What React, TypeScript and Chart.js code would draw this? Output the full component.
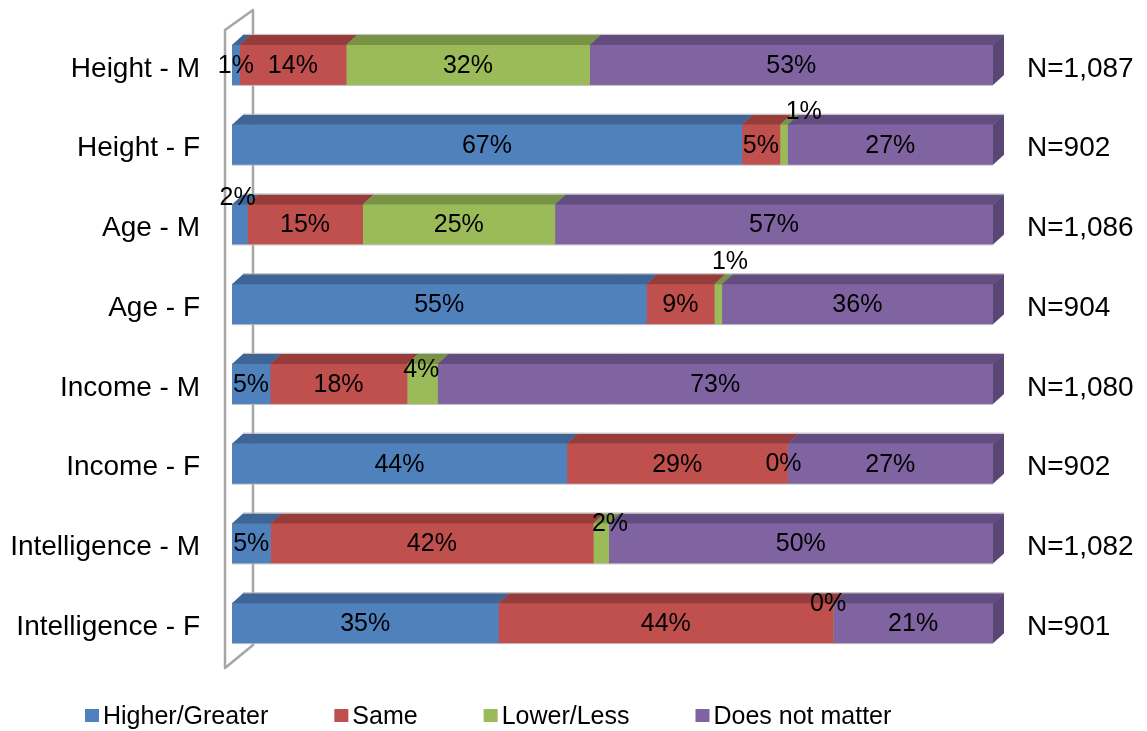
import React, { useEffect, useRef } from "react";
import { Chart, registerables } from "chart.js";

Chart.register(...registerables);

// Survey rows and the share of answers in each of the four options
const categories = [
  "Height - M",
  "Height - F",
  "Age - M",
  "Age - F",
  "Income - M",
  "Income - F",
  "Intelligence - M",
  "Intelligence - F",
];
const sampleSizes = ["N=1,087", "N=902", "N=1,086", "N=904", "N=1,080", "N=902", "N=1,082", "N=901"];

const higherGreater = [1, 67, 2, 55, 5, 44, 5, 35];
const same = [14, 5, 15, 9, 18, 29, 42, 44];
const lowerLess = [32, 1, 25, 1, 4, 0, 2, 0];
const doesNotMatter = [53, 27, 57, 36, 73, 27, 50, 21];

const seriesNames = ["Higher/Greater", "Same", "Lower/Less", "Does not matter"];
const seriesValues = [higherGreater, same, lowerLess, doesNotMatter];

const FRONT = ["#4F81BD", "#C0504D", "#9BBB59", "#8064A2"];
const TOP = ["#3E6596", "#963D3B", "#789345", "#634D80"];
const SIDE = ["#385A86", "#873735", "#6C843E", "#5A4674"];

const FONT = "'Liberation Sans', Arial, Helvetica, sans-serif";
const DEPTH_X = 11;
const DEPTH_Y = 10;

// Each row is a 100% stacked bar: segments are shares of the row total
const rowTotals = categories.map((_, i) => seriesValues.reduce((s, arr) => s + arr[i], 0));
const percentOfRow = (arr: number[]) => arr.map((v, i) => (v / rowTotals[i]) * 100);

// Small labels that sit above or beside their thin segments: [dx, dy] from the segment centre
const labelNudges: Record<string, [number, number]> = {
  "1:2": [20, -33],
  "2:0": [-2, -26],
  "3:2": [12, -42],
  "4:2": [-1, -14],
  "5:2": [-4, 0],
  "6:2": [9, -19],
  "7:2": [-5, -19],
};

const barGeometry = (el: any) => {
  const p = el.getProps(["x", "base", "y", "height"], true);
  return {
    x0: Math.min(p.x, p.base),
    x1: Math.max(p.x, p.base),
    top: p.y - p.height / 2,
    bottom: p.y + p.height / 2,
    cy: p.y,
  };
};

// Side wall of the 3-D plot area, drawn behind the bars
const wallPlugin = {
  id: "wall",
  beforeDatasetsDraw(chart: any) {
    const { ctx, chartArea } = chart;
    const L = chartArea.left;
    const T = chartArea.top;
    const B = chartArea.bottom;
    ctx.save();
    ctx.strokeStyle = "#A6A6A6";
    ctx.lineWidth = 2.5;
    ctx.lineJoin = "round";
    ctx.beginPath();
    ctx.moveTo(L + 21, T - 15);
    ctx.lineTo(L - 7, T + 5);
    ctx.lineTo(L - 7, B + 5);
    ctx.lineTo(L + 21, B - 18);
    ctx.closePath();
    ctx.stroke();
    ctx.restore();
  },
};

// Top and end faces that give each stacked bar its depth
const depthPlugin = {
  id: "depth",
  afterDatasetsDraw(chart: any) {
    const { ctx } = chart;
    ctx.save();
    categories.forEach((_, i) => {
      let last: any = null;
      let first: any = null;
      chart.data.datasets.forEach((_ds: any, k: number) => {
        const el = chart.getDatasetMeta(k).data[i];
        if (!el) return;
        const g = barGeometry(el);
        if (g.x1 - g.x0 < 0.05) return;
        if (!first) first = g;
        ctx.fillStyle = TOP[k];
        ctx.beginPath();
        ctx.moveTo(g.x0, g.top);
        ctx.lineTo(g.x1 + 0.4, g.top);
        ctx.lineTo(g.x1 + DEPTH_X + 0.4, g.top - DEPTH_Y);
        ctx.lineTo(g.x0 + DEPTH_X, g.top - DEPTH_Y);
        ctx.closePath();
        ctx.fill();
        last = { ...g, k };
      });
      if (!last || !first) return;
      ctx.fillStyle = SIDE[last.k];
      ctx.beginPath();
      ctx.moveTo(last.x1, last.top);
      ctx.lineTo(last.x1 + DEPTH_X, last.top - DEPTH_Y);
      ctx.lineTo(last.x1 + DEPTH_X, last.bottom - DEPTH_Y);
      ctx.lineTo(last.x1, last.bottom);
      ctx.closePath();
      ctx.fill();

      // faint outline along the back top edge and the front bottom edge
      ctx.strokeStyle = "rgba(185,185,185,0.9)";
      ctx.lineWidth = 1;
      ctx.beginPath();
      ctx.moveTo(first.x0 + DEPTH_X, last.top - DEPTH_Y - 0.5);
      ctx.lineTo(last.x1 + DEPTH_X, last.top - DEPTH_Y - 0.5);
      ctx.moveTo(first.x0, last.bottom + 0.5);
      ctx.lineTo(last.x1, last.bottom + 0.5);
      ctx.stroke();
    });
    ctx.restore();
  },
};

// Percentage labels on every segment
const valueLabelPlugin = {
  id: "valueLabels",
  afterDraw(chart: any) {
    const { ctx } = chart;
    ctx.save();
    ctx.font = `25px ${FONT}`;
    ctx.fillStyle = "#000000";
    ctx.textAlign = "center";
    ctx.textBaseline = "middle";
    chart.data.datasets.forEach((ds: any, k: number) => {
      chart.getDatasetMeta(k).data.forEach((el: any, i: number) => {
        const g = barGeometry(el);
        const nudge = labelNudges[`${i}:${k}`] || [0, 1];
        ctx.fillText(`${ds.rawValues[i]}%`, (g.x0 + g.x1) / 2 + nudge[0], g.cy + nudge[1]);
      });
    });
    ctx.restore();
  },
};

// Legend row under the plot
const legendPlugin = {
  id: "bottomLegend",
  afterDraw(chart: any) {
    const { ctx } = chart;
    ctx.save();
    ctx.font = `25px ${FONT}`;
    ctx.textBaseline = "middle";
    ctx.textAlign = "left";
    const y = 716;
    let x = 85;
    seriesNames.forEach((name, k) => {
      ctx.fillStyle = FRONT[k];
      ctx.fillRect(x, y - 7, 14, 13);
      ctx.fillStyle = "#000000";
      ctx.fillText(name, x + 18, y + 1);
      x += 18 + ctx.measureText(name).width + 66;
    });
    ctx.restore();
  },
};

// Fixed axis widths, and no extra label padding above/below the category band
const fixAxis = (width: number) => (scale: any) => {
  scale.width = width;
  scale.paddingTop = 0;
  scale.paddingBottom = 0;
};

export default function App() {
  const canvasRef = useRef<HTMLCanvasElement | null>(null);

  useEffect(() => {
    if (!canvasRef.current) return;
    const chart = new Chart(canvasRef.current, {
      type: "bar",
      data: {
        labels: categories,
        datasets: seriesNames.map((name, k) => ({
          label: name,
          data: percentOfRow(seriesValues[k]),
          rawValues: seriesValues[k],
          backgroundColor: FRONT[k],
          borderWidth: 0,
          barThickness: 40,
        })) as any,
      },
      options: {
        indexAxis: "y",
        responsive: false,
        animation: false,
        events: [],
        layout: { padding: { top: 25, bottom: 68, left: 0, right: 0 } },
        scales: {
          x: { stacked: true, min: 0, max: 100, display: false },
          y: {
            type: "category",
            stacked: true,
            grid: { display: false, drawTicks: false },
            border: { display: false },
            ticks: {
              color: "#000000",
              font: { family: FONT, size: 28 },
              padding: 32,
              labelOffset: 4,
            },
            afterFit: fixAxis(232),
          },
          y2: {
            type: "category",
            position: "right",
            labels: sampleSizes,
            offset: true,
            grid: { display: false, drawTicks: false },
            border: { display: false },
            ticks: {
              color: "#000000",
              font: { family: FONT, size: 28 },
              padding: 34,
              labelOffset: 4,
            },
            afterFit: fixAxis(154),
          },
        } as any,
        plugins: {
          legend: { display: false },
          tooltip: { enabled: false },
        },
      },
      plugins: [wallPlugin, depthPlugin, valueLabelPlugin, legendPlugin],
    });
    return () => chart.destroy();
  }, []);

  return (
    <div style={{ position: "absolute", left: 0, top: 0, width: 1147, height: 731, background: "#ffffff" }}>
      <canvas ref={canvasRef} width={1147} height={731} />
    </div>
  );
}
